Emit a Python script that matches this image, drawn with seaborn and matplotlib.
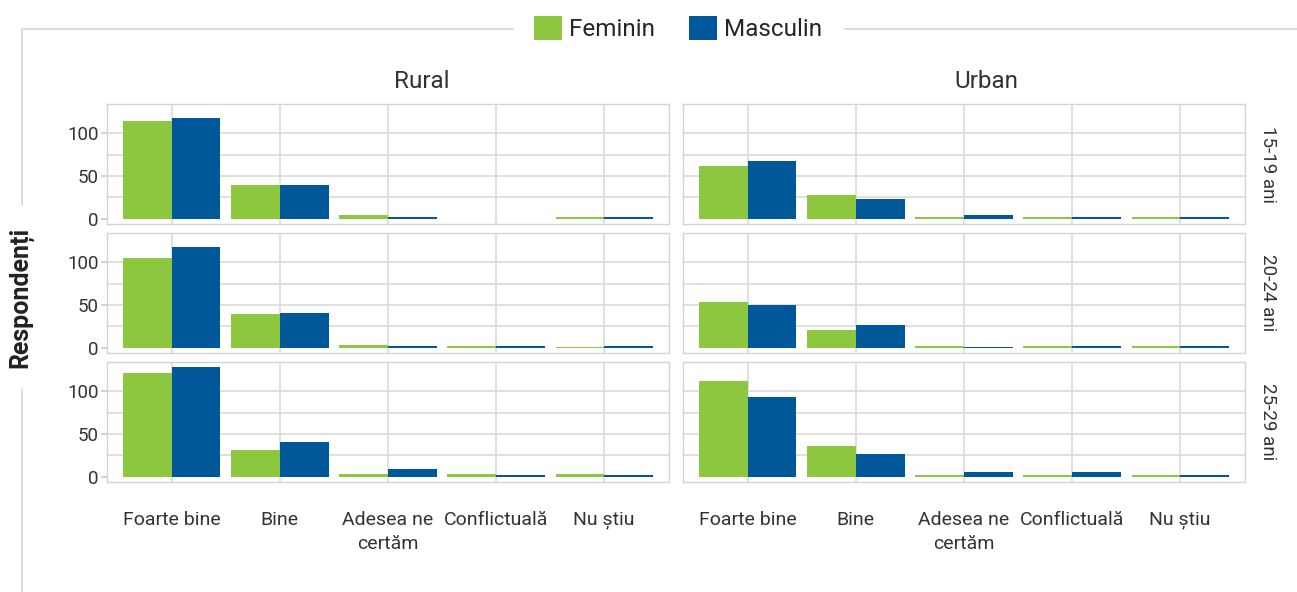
import numpy as np
import pandas as pd
import matplotlib
matplotlib.use('Agg')
import matplotlib.pyplot as plt
import seaborn as sns
from matplotlib.patches import Patch
from matplotlib.lines import Line2D

# categories / facets
CATEGORIES = ['Foarte bine', 'Bine', 'Adesea ne\ncertăm', 'Conflictuală', 'Nu știu']
AREAS = ['Rural', 'Urban']
AGES = ['15-19 ani', '20-24 ani', '25-29 ani']
SEXES = ['Feminin', 'Masculin']
COLORS = ['#8dc63f', '#00589a']

# respondents per category
RURAL_15_19_F = [114, 39, 4, 0, 2]
RURAL_15_19_M = [118, 39, 2, 0, 2]
URBAN_15_19_F = [62, 28, 2, 2, 2]
URBAN_15_19_M = [67, 23, 4, 2, 2]
RURAL_20_24_F = [105, 39, 3, 2, 1]
RURAL_20_24_M = [118, 40, 2, 2, 2]
URBAN_20_24_F = [54, 21, 2, 2, 2]
URBAN_20_24_M = [50, 27, 1, 2, 2]
RURAL_25_29_F = [122, 31, 3, 3, 3]
RURAL_25_29_M = [128, 40, 9, 2, 2]
URBAN_25_29_F = [112, 36, 2, 2, 2]
URBAN_25_29_M = [93, 27, 5, 5, 2]

SERIES = {
    ('Rural', '15-19 ani'): (RURAL_15_19_F, RURAL_15_19_M),
    ('Urban', '15-19 ani'): (URBAN_15_19_F, URBAN_15_19_M),
    ('Rural', '20-24 ani'): (RURAL_20_24_F, RURAL_20_24_M),
    ('Urban', '20-24 ani'): (URBAN_20_24_F, URBAN_20_24_M),
    ('Rural', '25-29 ani'): (RURAL_25_29_F, RURAL_25_29_M),
    ('Urban', '25-29 ani'): (URBAN_25_29_F, URBAN_25_29_M),
}


def build_frame() -> pd.DataFrame:
    rows = []
    for (area, age), (fem, masc) in SERIES.items():
        for sex, vals in zip(SEXES, (fem, masc)):
            for cat, v in zip(CATEGORIES, vals):
                rows.append({'area': area, 'age': age, 'sex': sex, 'cat': cat, 'value': v})
    return pd.DataFrame(rows)


df = build_frame()

sns.set_theme(style='white')
plt.rcParams['font.family'] = ['Roboto', 'DejaVu Sans']

W, H = 1297, 592
fig, axes = plt.subplots(3, 2, figsize=(W / 100, H / 100), dpi=100, sharex=True, sharey=True)
fig.subplots_adjust(left=107 / W, right=1245 / W, top=1 - 104 / H, bottom=1 - 482 / H,
                    wspace=14 / 562, hspace=9 / 120)

ymax = df['value'].max()
pad = 0.05 * ymax
grid_c = '#dadada'
text_c = '#333333'
# strip titles sit a bit right of the panel centre in the original
strip_shift = {'Rural': 34, 'Urban': 22}

for i, age in enumerate(AGES):
    for j, area in enumerate(AREAS):
        ax = axes[i, j]
        sub = df[(df['age'] == age) & (df['area'] == area)]
        sns.barplot(data=sub, x='cat', y='value', hue='sex', order=CATEGORIES,
                    hue_order=SEXES, palette=COLORS, width=0.9, saturation=1,
                    linewidth=0, errorbar=None, legend=False, ax=ax)
        ax.set_xlim(-0.6, len(CATEGORIES) - 0.4)
        ax.set_ylim(-pad, ymax + pad)
        ax.set_yticks([0, 50, 100])
        ax.set_yticks([25, 75], minor=True)
        ax.set_axisbelow(True)
        ax.grid(True, which='both', axis='y', color=grid_c, lw=1.2)
        ax.grid(True, axis='x', color=grid_c, lw=1.2)
        ax.yaxis.get_gridlines()[0].set_visible(False)
        for s in ax.spines.values():
            s.set_visible(True)
            s.set_color('#d4d4d4')
            s.set_linewidth(1.0)
        ax.set_xlabel('')
        ax.set_ylabel('')
        ax.tick_params(axis='y', which='major', left=(j == 0), length=4, color='#cccccc',
                       labelsize=13.5, labelcolor=text_c, pad=2)
        ax.tick_params(axis='y', which='minor', left=False)
        ax.tick_params(axis='x', length=0, labelsize=14, labelcolor=text_c, pad=21)
        if i == 0:
            ax.annotate(area, xy=(0.5, 1), xycoords='axes fraction',
                        xytext=(strip_shift[area] * 0.72, 23 * 0.72),
                        textcoords='offset points', ha='center', va='center',
                        fontsize=17.5, color=text_c)
        if j == 1:
            ax.annotate(age, xy=(1, 0.5), xycoords='axes fraction', xytext=(23 * 0.72, 0),
                        textcoords='offset points', ha='center', va='center',
                        rotation=270, fontsize=13.5, color=text_c)

for ax in axes[-1]:
    for lab in ax.get_xticklabels():
        lab.set_linespacing(1.45)
        lab.set_verticalalignment('top')
        lab.set_multialignment('center')

# y label with the frame lines around the chart
fig.text(21 / W, 1 - 297 / H, 'Respondenți', rotation=90, ha='center', va='center',
         fontsize=18, fontweight='bold', color='#222222')
line_c = '#d9d9d9'
y_top = 1 - 28.5 / H
x_left = 22 / W
fig.add_artist(Line2D([x_left, 513 / W], [y_top, y_top], color=line_c, lw=1.3))
fig.add_artist(Line2D([845 / W, 1.0], [y_top, y_top], color=line_c, lw=1.3))
fig.add_artist(Line2D([x_left, x_left], [y_top, 1 - 205 / H], color=line_c, lw=1.3))
fig.add_artist(Line2D([x_left, x_left], [1 - 389 / H, 0], color=line_c, lw=1.3))

handles = [Patch(facecolor=c, edgecolor='none', label=s) for s, c in zip(SEXES, COLORS)]
fig.legend(handles=handles, loc='center', bbox_to_anchor=(678 / W, y_top), ncol=2,
           frameon=False, fontsize=17.5, handlelength=1.15, handleheight=1.15,
           handletextpad=0.3, columnspacing=1.4, borderpad=0, borderaxespad=0)

fig.savefig('out.png', dpi=100)
